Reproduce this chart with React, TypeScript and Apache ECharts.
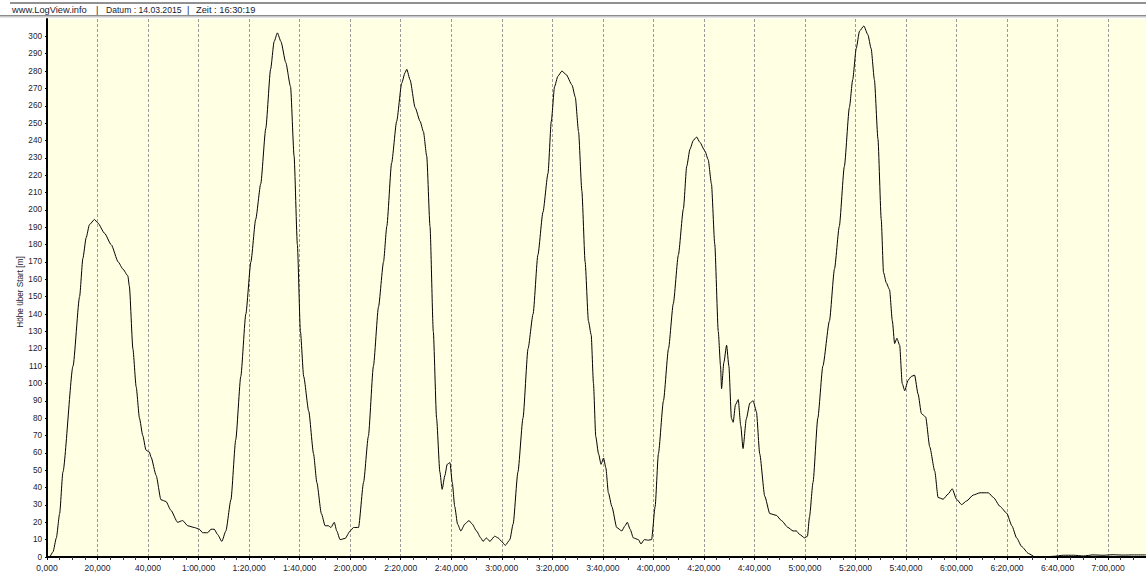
import { useEffect, useRef } from "react";
import * as echarts from "echarts";

// time in seconds
const times = [
  0, 1, 2.4, 3.7, 5, 6.3, 10.3, 12.9, 14.2, 15.5, 16.8, 18.8, 20.1, 22.8, 25.4, 28.2, 30, 32, 32.6, 34,
  35.3, 36.6, 37.9, 39.2, 40.5, 41.2, 43.2, 45.1, 47.1, 49, 51.7, 53.7, 55.7, 58.3, 60.3, 61.6, 63.6, 64.9, 66.2, 67.5,
  69.2, 70.8, 72.8, 74.7, 76.7, 78.7, 80.7, 82.6, 84.6, 86.6, 88.5, 89.9, 91.2, 92.6, 94.5, 96.4, 97.8, 99.1, 100.3, 101.6,
  103.6, 105.5, 106.8, 108.6, 110.1, 111.4, 112.4, 113.7, 114.7, 116, 118, 120, 121.3, 123.3, 125.3, 127.2, 129.2, 131.2, 133.2, 134.5,
  136.4, 138.4, 140.4, 141.7, 142.4, 143.7, 145.7, 147.7, 149, 150.3, 151.6, 152.9, 154.2, 155.5, 156.4, 157.5, 158.4, 159.5, 160.4, 161.4,
  162.5, 163.8, 165.4, 167, 168.3, 170, 171.7, 172.6, 173.9, 175.3, 177.2, 178.6, 179.9, 181.4, 183.2, 184.5, 186.4, 188.4, 190.4, 192.4,
  194.3, 196.3, 198.3, 199.6, 200.9, 202.2, 203.8, 205.5, 207.8, 209.1, 210.4, 211.7, 213, 214.3, 215.4, 216.3, 217.2, 218.3, 219.3, 220.3,
  221.2, 222.2, 223.6, 225.5, 227.5, 228.8, 229.7, 230.8, 232.1, 234.1, 235.1, 236.4, 238, 239.3, 240.7, 242, 244, 246, 247.9, 249.9,
  251.9, 253.2, 254.5, 255.8, 257.1, 258.4, 260.4, 261.7, 263, 264.3, 265.7, 266.6, 267, 267.9, 269, 269.9, 270.9, 271.6, 272.5, 273.6,
  274.6, 275.5, 276.8, 278.2, 279.5, 280.8, 282.1, 284.1, 286.1, 288.7, 290.7, 293.3, 295.3, 296.6, 297.9, 299.9, 301, 301.8, 303.2, 305.1,
  307.1, 309.7, 311.7, 313.6, 315.6, 317.6, 318.9, 320.3, 321.6, 323.3, 324.9, 326.2, 327.5, 328.9, 330.2, 331.1, 332.2, 333.5, 334.6, 335.5,
  336.4, 337.5, 338.5, 339.5, 340.8, 342.1, 343.4, 344.8, 346.1, 347.8, 349.4, 351.4, 352.7, 354.7, 356.7, 358.3, 360, 362, 364, 366.6,
  369.3, 372.6, 374.6, 377.2, 379.9, 381.9, 383.8, 385.8, 388.5, 391.1, 394.4, 398.4, 402.3, 406.3, 410.3, 414, 418, 422, 426, 430,
  435,
];

// height above start [m]
const heights = [
  0, 0, 3, 11, 25, 49, 110, 150, 172, 184, 191.5, 194.5, 192.5, 186.5, 180, 170, 166, 162, 156, 120,
  98, 80, 70, 61.5, 60.5, 57.5, 47, 33, 32, 27, 20, 21, 18, 17, 16, 14, 14, 16, 16, 13,
  9, 15, 33, 67.5, 104, 140, 170, 194.5, 215, 247, 281, 297, 302, 297, 285, 271, 231, 180, 130, 104,
  84, 59.5, 43, 25, 18, 18, 17, 20, 15, 10, 10.7, 15, 17, 17, 43, 69.5, 110, 144, 170, 190.5,
  227, 251, 273, 279, 281, 275, 259, 251, 245, 231, 190.5, 130, 80, 49, 39, 47, 53.4, 54.4, 43, 29,
  19, 15, 19, 21, 19, 15, 11, 9, 11, 9, 12, 11, 9, 6.7, 10, 19, 49, 80, 120, 140,
  174, 198.6, 221, 251, 271, 277, 280, 278, 272, 265, 245, 211, 170, 136, 128, 100, 69.5, 59.5, 53.4, 57,
  51.4, 37, 29, 17, 15, 18, 20, 16, 11, 10, 7.5, 10, 9.7, 10, 29, 59.5, 90, 120, 146, 174,
  200.6, 225, 235, 240, 242, 239, 234, 229, 215, 180.4, 130, 110, 97, 112, 122, 110, 80, 77.6, 87.7, 90.7,
  75.6, 62.5, 79.6, 88.7, 90, 83.7, 59.5, 35, 25, 24, 21, 17, 15, 15, 13, 11, 12, 23, 43, 80,
  110, 136, 166, 190.5, 225, 259, 275, 293, 303, 306, 301, 293, 275, 241, 194.6, 164, 158, 154, 136, 123,
  126, 122, 100, 95.8, 101.8, 104, 104.8, 93.8, 82.7, 80.6, 63.5, 49.4, 34.3, 33.3, 36.3, 39.3, 33.3, 30.2, 32.3, 35.7,
  37, 37, 34.3, 29.2, 25.2, 18, 11, 6, 2, 0, 0, 0.4, 1, 1, 0.6, 1.2, 1, 1.3, 1.1, 1.2,
  1.2,
];

const headerTexts = ["www.LogView.info", "|", "Datum : 14.03.2015", "|", "Zeit : 16:30:19"];
const headerX = [12, 96, 106, 187, 196];
const yAxisTitle = "Höhe über Start [m]";

function formatTime(v: number): string {
  const m = Math.floor(v / 60);
  const s = Math.round(v - m * 60);
  if (m === 0) return `${s},000`;
  return `${m}:${String(s).padStart(2, "0")},000`;
}

export default function App() {
  const ref = useRef<HTMLDivElement>(null);
  useEffect(() => {
    if (!ref.current) return;
    const chart = echarts.init(ref.current, null, { renderer: "svg" });
    const data = times.map((t, i) => [t, heights[i]]);
    const font = "'Liberation Sans', Arial, sans-serif";
    chart.setOption({
      animation: false,
      backgroundColor: "#ffffff",
      textStyle: { fontFamily: font },
      grid: { left: 47, right: 0, top: 19, bottom: 20, show: true, backgroundColor: "#ffffe4", borderWidth: 0 },
      xAxis: {
        type: "value",
        min: 0,
        max: 435,
        interval: 20,
        axisLine: { show: true, onZero: false, lineStyle: { color: "#000", width: 2 } },
        axisTick: { show: true, length: 3, lineStyle: { color: "#000" } },
        minorTick: { show: true, splitNumber: 4, length: 3, lineStyle: { color: "#333" } },
        axisLabel: {
          formatter: (v: number) => formatTime(v),
          showMaxLabel: false,
          color: "#1a1a2e",
          fontSize: 8.5,
          margin: 6,
          fontFamily: font,
        },
        splitLine: { show: true, lineStyle: { color: "#9a9a9a", type: [3, 2], width: 1 } },
      },
      yAxis: {
        type: "value",
        min: 0,
        max: 310,
        interval: 10,
        axisLine: { show: true, lineStyle: { color: "#000", width: 2 } },
        axisTick: { show: true, length: 2, lineStyle: { color: "#000" } },
        axisLabel: { showMaxLabel: false, color: "#1a1a2e", fontSize: 8.2, margin: 5, fontFamily: font },
        splitLine: { show: false },
      },
      graphic: [
        { type: "line", shape: { x1: 10, y1: 3, x2: 1146, y2: 3 }, style: { stroke: "#222", lineWidth: 1 }, silent: true },
        { type: "rect", shape: { x: 0, y: 15, width: 1146, height: 1 }, style: { fill: "#8c8c8c" }, silent: true },
        { type: "rect", shape: { x: 0, y: 16, width: 1146, height: 1.5 }, style: { fill: "#c8c8c8" }, silent: true },
        ...headerTexts.map((t, i) => ({
          type: "text",
          x: headerX[i],
          y: 9.5,
          silent: true,
          style: { text: t, fill: "#1a1a2e", font: `${i === 2 ? 8.6 : 9.3}px ${font}`, verticalAlign: "middle", align: "left" },
        })),
        {
          type: "text",
          x: 20,
          y: 292,
          rotation: Math.PI / 2,
          silent: true,
          style: { text: yAxisTitle, fill: "#1a1a2e", font: `8.2px ${font}`, align: "center", verticalAlign: "middle" },
        },
      ],
      series: [
        {
          type: "line",
          data,
          showSymbol: false,
          smooth: 0.2,
          smoothMonotone: "x",
          lineStyle: { color: "#000", width: 1 },
        },
      ],
    });
    return () => chart.dispose();
  }, []);
  return <div ref={ref} style={{ position: "fixed", left: 0, top: 0, width: 1146, height: 577 }} />;
}
